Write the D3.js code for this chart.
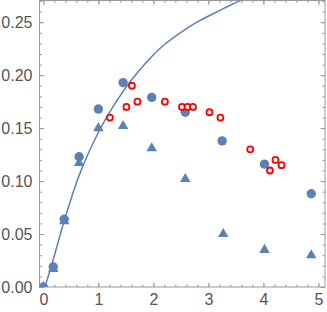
<!DOCTYPE html>
<html>
<head>
<meta charset="utf-8">
<script src="https://cdn.jsdelivr.net/npm/d3@7"></script>
<style>
  body { margin: 0; background: #fff; }
  svg { display: block; }
</style>
</head>
<body>
<div id="chart"></div>
<script>
// Data
var circleX = [0, 0.18, 0.38, 0.65, 1.0, 1.45, 1.97, 2.58, 3.25, 4.02, 4.87]
var circleY = [0, 0.019, 0.064, 0.123, 0.168, 0.193, 0.179, 0.165, 0.138, 0.116, 0.088]
var triX = [0, 0.18, 0.38, 0.65, 1.0, 1.45, 1.97, 2.58, 3.27, 4.02, 4.87]
var triY = [0, 0.017, 0.062, 0.117, 0.150, 0.152, 0.131, 0.102, 0.050, 0.035, 0.030]
var redX = [1.21, 1.51, 1.61, 1.71, 2.21, 2.52, 2.62, 2.72, 3.02, 3.22, 3.76, 4.12, 4.22, 4.33]
var redY = [0.160, 0.170, 0.190, 0.175, 0.175, 0.170, 0.170, 0.170, 0.165, 0.160, 0.130, 0.110, 0.120, 0.115]
// fitted curve
var curveX = [0.03, 0.18, 0.40, 0.67, 1.02, 1.24, 1.58, 1.94, 2.18, 2.49, 2.79, 3.20, 3.58, 3.75]
var curveY = [0.000, 0.026, 0.066, 0.108, 0.148, 0.168, 0.194, 0.216, 0.228, 0.240, 0.250, 0.261, 0.2705, 0.274]

var xTicks = [0, 1, 2, 3, 4, 5]
var yTicks = [0, 0.05, 0.10, 0.15, 0.20, 0.25]

var blue = '#5e81b5'
var frameColor = '#999999'
var labelColor = '#555555'

// Dimensions
var width = 327
var height = 312
var frame = { left: 39.5, right: 325, top: 0.5, bottom: 287 }

var x = d3.scaleLinear().domain([-0.07, 5.12]).range([frame.left, frame.right])
var y = d3.scaleLinear().domain([0, 0.2705]).range([frame.bottom, frame.top])

var svg = d3.select('#chart').append('svg')
  .attr('width', width)
  .attr('height', height)

svg.append('defs').append('clipPath')
  .attr('id', 'clip')
  .append('rect')
  .attr('x', frame.left)
  .attr('y', frame.top)
  .attr('width', frame.right - frame.left)
  .attr('height', frame.bottom - frame.top)

// Frame ticks, all four sides, pointing inward
var xMinor = d3.range(0, 5.01, 0.2)
var yMinor = d3.range(0, 0.2705, 0.01)

function frameAxis(axis, pos, values, size, fmt) {
  var g = svg.append('g')
    .attr('transform', pos)
    .call(axis.tickValues(values).tickSizeInner(-size).tickSizeOuter(0)
      .tickPadding(fmt ? 7 : 0)
      .tickFormat(fmt || ''))
  g.select('.domain').remove()
  g.selectAll('line').attr('stroke', frameColor)
  return g
}

var atBottom = 'translate(0,' + frame.bottom + ')'
var atTop = 'translate(0,' + frame.top + ')'
var atLeft = 'translate(' + frame.left + ',0)'
var atRight = 'translate(' + frame.right + ',0)'

frameAxis(d3.axisBottom(x), atBottom, xMinor, 2.5)
frameAxis(d3.axisTop(x), atTop, xMinor, 2.5)
frameAxis(d3.axisLeft(y), atLeft, yMinor, 2.5)
frameAxis(d3.axisRight(y), atRight, yMinor, 2.5)

frameAxis(d3.axisBottom(x), atBottom, xTicks, 4.5, d3.format('d'))
frameAxis(d3.axisTop(x), atTop, xTicks, 4.5)
frameAxis(d3.axisLeft(y), atLeft, yTicks, 4.5, d3.format('.2f'))
frameAxis(d3.axisRight(y), atRight, yTicks, 4.5)

svg.selectAll('.tick text')
  .attr('fill', labelColor)
  .style('font-family', 'Liberation Sans, Arial, sans-serif')
  .style('font-size', '16px')

// Frame box
svg.append('rect')
  .attr('x', frame.left)
  .attr('y', frame.top)
  .attr('width', frame.right - frame.left)
  .attr('height', frame.bottom - frame.top)
  .attr('fill', 'none')
  .attr('stroke', frameColor)
  .attr('stroke-width', 1)

var plot = svg.append('g').attr('clip-path', 'url(#clip)')

// Filled circles
plot.selectAll('.dot')
  .data(circleX.map(function (d, i) { return [d, circleY[i]] }))
  .enter().append('path')
  .attr('class', 'dot')
  .attr('d', d3.symbol(d3.symbolCircle, Math.PI * 4.7 * 4.7))
  .attr('transform', function (d) { return 'translate(' + x(d[0]) + ',' + y(d[1]) + ')' })
  .attr('fill', blue)

// Filled triangles
plot.selectAll('.tri')
  .data(triX.map(function (d, i) { return [d, triY[i]] }))
  .enter().append('path')
  .attr('class', 'tri')
  .attr('d', d3.symbol(d3.symbolTriangle, 48))
  .attr('transform', function (d) { return 'translate(' + x(d[0]) + ',' + y(d[1]) + ')' })
  .attr('fill', blue)

// Curve
var line = d3.line()
  .x(function (d) { return x(d[0]) })
  .y(function (d) { return y(d[1]) })
  .curve(d3.curveCatmullRom.alpha(0.5))

plot.append('path')
  .datum(curveX.map(function (d, i) { return [d, curveY[i]] }))
  .attr('d', line)
  .attr('fill', 'none')
  .attr('stroke', blue)
  .attr('stroke-width', 1.5)

// Open red circles
plot.selectAll('.ring')
  .data(redX.map(function (d, i) { return [d, redY[i]] }))
  .enter().append('circle')
  .attr('class', 'ring')
  .attr('cx', function (d) { return x(d[0]) })
  .attr('cy', function (d) { return y(d[1]) })
  .attr('r', 3)
  .attr('fill', 'white')
  .attr('stroke', '#ff0000')
  .attr('stroke-width', 1.8)
</script>
</body>
</html>
